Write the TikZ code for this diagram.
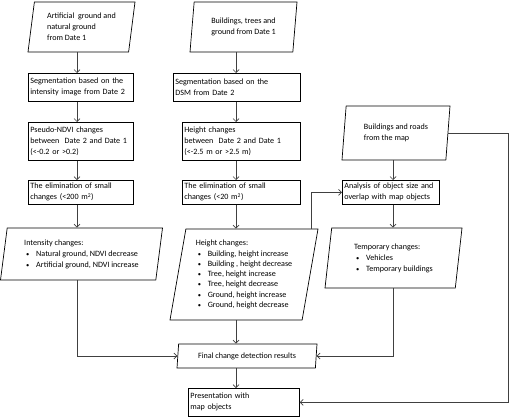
\documentclass[tikz,border=0pt]{standalone}
\usepackage{fontspec}
\setmainfont{Carlito}
\usetikzlibrary{shapes.geometric,arrows.meta}

\tikzset{
  stepbox/.style={draw, rectangle, anchor=north west, inner xsep=2pt, inner ysep=0pt,
    align=left, line width=0.7pt, font=\fontsize{8.1}{11}\selectfont},
  databox/.style={draw, trapezium, trapezium left angle=77, trapezium right angle=103,
    trapezium stretches body, inner xsep=2pt, inner ysep=0pt, align=left,
    line width=0.7pt, font=\fontsize{8.1}{11}\selectfont},
  flow/.style={-{Straight Barb[length=3pt,width=6pt]}, black!75, line width=0.7pt},
}
\newcommand{\bul}{\hspace*{2pt}\makebox[10pt][l]{\fontsize{6.5}{6.5}\selectfont\textbullet}}

\begin{document}
\begin{tikzpicture}[x=1pt,y=-1pt]
    \useasboundingbox (0,0) rectangle (510,417);
    %% Column rails
    \coordinate (colA) at (77,0);
    \coordinate (colB) at (236,0);
    \coordinate (colC) at (393,0);
    \coordinate (rail) at (508,0);
    %% Inputs
    \node[databox, minimum width=107pt, minimum height=50pt] (artground) at (81.5,27)
        {Artificial\ \ ground and\\natural ground\\from Date 1};
    \node[databox, minimum width=107pt, minimum height=50pt] (bldtree) at (243.5,27)
        {Buildings, trees and\\ground from Date 1};
    \node[databox, minimum width=108pt, minimum height=54pt] (mapdata) at (396,133)
        {Buildings and roads\\from the map};
    %% Left column
    \node[stepbox, text width=101pt, minimum height=28pt] (seg1) at (28,73)
        {Segmentation based on the\\intensity image from Date 2};
    \node[stepbox, text width=101pt, minimum height=38pt] (ndvi) at (28,122)
        {Pseudo-NDVI changes\\between\ \ Date 2 and Date 1\\(<-0.2 or >0.2)};
    \node[stepbox, text width=101pt, minimum height=24pt] (elim1) at (28,180)
        {The elimination of small\\changes (<200 m\textsuperscript{2})};
    \node[databox, minimum width=162pt, minimum height=52pt] (intens) at (81.5,254)
        {Intensity changes:\\\bul Natural ground, NDVI decrease\\\bul Artificial ground, NDVI increase};
    %% Middle column
    \node[stepbox, text width=123pt, minimum height=28pt] (seg2) at (173,73)
        {Segmentation based on the\\DSM from Date 2};
    \node[stepbox, text width=114pt, minimum height=38pt] (hchg) at (182,122)
        {Height changes\\between\ \ Date 2 and Date 1\\(<-2.5 m or >2.5 m)};
    \node[stepbox, text width=114pt, minimum height=24pt] (elim2) at (182,180)
        {The elimination of small\\changes (<20 m\textsuperscript{2})};
    \node[databox, minimum width=148pt, minimum height=91pt,
          font=\fontsize{8.1}{10.3}\selectfont] (hgtres) at (244,274.5)
        {Height changes:\\\bul Building, height increase\\\bul Building , height decrease\\
         \bul Tree, height increase\\\bul Tree, height decrease\\
         \bul Ground, height increase\\\bul Ground, height decrease};
    \node[databox, minimum width=140pt, minimum height=24pt] (final) at (247,356)
        {Final change detection results};
    \node[stepbox, text width=107pt, minimum height=28pt] (present) at (188,388)
        {Presentation with\\map objects};
    %% Right column
    \node[stepbox, text width=93pt, minimum height=24pt] (analysis) at (342,180)
        {Analysis of object size and\\overlap with map objects};
    \node[databox, minimum width=137pt, minimum height=60pt] (tempres) at (393.5,258)
        {Temporary changes:\\\bul Vehicles\\\bul Temporary buildings};

    %% Connectors
    \draw[flow] (artground.south -| colA) -- (seg1.north -| colA);
    \draw[flow] (seg1.south -| colA) -- (ndvi.north -| colA);
    \draw[flow] (ndvi.south -| colA) -- (elim1.north -| colA);
    \draw[flow] (elim1.south -| colA) -- (intens.north -| colA);
    \draw[flow] (intens.south -| colA) |- (final.west);

    \draw[flow] (bldtree.south -| colB) -- (seg2.north -| colB);
    \draw[flow] (seg2.south -| colB) -- (hchg.north -| colB);
    \draw[flow] (hchg.south -| colB) -- (elim2.north -| colB);
    \draw[flow] (elim2.south -| colB) -- (hgtres.north -| colB);
    \draw[flow] (hgtres.south -| colB) -- (final.north -| colB);
    \draw[flow] (final.south -| colB) -- (present.north -| colB);
    \draw[flow] ([xshift=67pt]hgtres.north) |- (analysis.west);

    \draw[flow] (mapdata.south -| colC) -- (analysis.north -| colC);
    \draw[flow] (analysis.south -| colC) -- (tempres.north -| colC);
    \draw[flow] (tempres.south -| colC) |- (final.east);
    \draw[flow] (mapdata.east) -- (mapdata.east -| rail) |- (present.east);
\end{tikzpicture}
\end{document}
